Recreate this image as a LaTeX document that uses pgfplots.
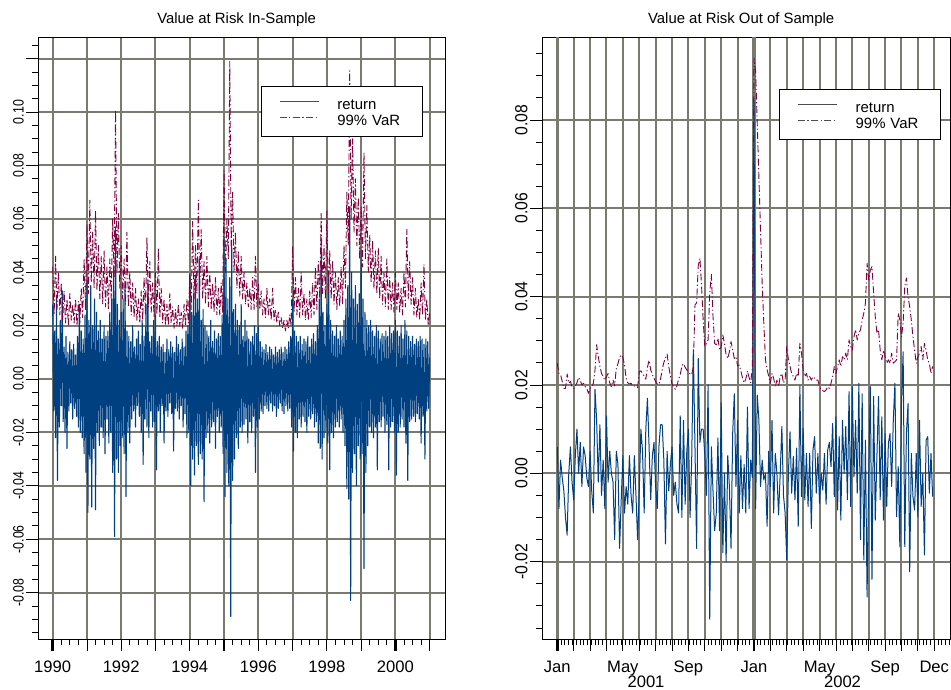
\documentclass[border=0pt]{standalone}
\usepackage{pgfplots}
\pgfplotsset{compat=1.18}
\usepackage{pgfplotstable}
\usepackage{fontspec}
\setmainfont{Liberation Sans}

\definecolor{retblue}{RGB}{0,64,128}
\definecolor{varred}{RGB}{128,0,64}
\definecolor{gridgray}{RGB}{122,122,112}

% daily returns 1990-2000, one value every 1/36 year
\pgfplotstableread[row sep=\\, header=false]{
0.028\\ -0.012\\ 0.018\\ -0.022\\ 0.030\\ -0.038\\ 0.015\\ -0.018\\ 0.022\\ -0.010\\ 0.033\\ -0.016\\
0.012\\ -0.020\\ 0.016\\ -0.026\\ 0.010\\ -0.012\\ 0.014\\ -0.009\\ 0.011\\ -0.015\\ 0.013\\ -0.011\\
0.009\\ -0.014\\ 0.016\\ -0.018\\ 0.028\\ -0.020\\ 0.018\\ -0.022\\ 0.015\\ -0.028\\ 0.024\\ -0.035\\
0.037\\ -0.050\\ 0.022\\ -0.030\\ 0.035\\ -0.048\\ 0.020\\ -0.026\\ 0.030\\ -0.049\\ 0.025\\ -0.020\\
0.018\\ -0.025\\ 0.022\\ -0.018\\ 0.015\\ -0.022\\ 0.020\\ -0.028\\ 0.016\\ -0.015\\ 0.018\\ -0.024\\
0.025\\ -0.020\\ 0.030\\ -0.035\\ 0.042\\ -0.059\\ 0.057\\ -0.030\\ 0.028\\ -0.035\\ 0.022\\ -0.025\\
0.025\\ -0.022\\ 0.030\\ -0.028\\ 0.035\\ -0.044\\ 0.018\\ -0.020\\ 0.016\\ -0.024\\ 0.014\\ -0.015\\
0.020\\ -0.012\\ 0.012\\ -0.018\\ 0.015\\ -0.010\\ 0.018\\ -0.014\\ 0.013\\ -0.020\\ 0.022\\ -0.032\\
0.016\\ -0.015\\ 0.028\\ -0.018\\ 0.037\\ -0.022\\ 0.014\\ -0.012\\ 0.016\\ -0.018\\ 0.022\\ -0.016\\
0.024\\ -0.034\\ 0.014\\ -0.012\\ 0.016\\ -0.020\\ 0.012\\ -0.010\\ 0.013\\ -0.024\\ 0.010\\ -0.012\\
0.015\\ -0.014\\ 0.011\\ -0.009\\ 0.014\\ -0.013\\ 0.012\\ -0.027\\ 0.010\\ -0.011\\ 0.016\\ -0.012\\
0.013\\ -0.015\\ 0.011\\ -0.010\\ 0.015\\ -0.018\\ 0.012\\ -0.013\\ 0.018\\ -0.022\\ 0.020\\ -0.020\\
0.039\\ -0.040\\ 0.025\\ -0.030\\ 0.032\\ -0.036\\ 0.039\\ -0.025\\ 0.030\\ -0.032\\ 0.045\\ -0.028\\
0.022\\ -0.030\\ 0.026\\ -0.046\\ 0.020\\ -0.022\\ 0.018\\ -0.020\\ 0.016\\ -0.024\\ 0.022\\ -0.018\\
0.014\\ -0.016\\ 0.018\\ -0.026\\ 0.015\\ -0.014\\ 0.017\\ -0.020\\ 0.016\\ -0.018\\ 0.024\\ -0.028\\
0.053\\ -0.044\\ 0.045\\ -0.035\\ 0.030\\ -0.040\\ 0.038\\ -0.089\\ 0.052\\ -0.038\\ 0.026\\ -0.030\\
0.028\\ -0.022\\ 0.022\\ -0.026\\ 0.020\\ -0.018\\ 0.028\\ -0.020\\ 0.016\\ -0.017\\ 0.022\\ -0.015\\
0.018\\ -0.024\\ 0.015\\ -0.016\\ 0.014\\ -0.020\\ 0.016\\ -0.014\\ 0.020\\ -0.035\\ 0.017\\ -0.018\\
0.020\\ -0.015\\ 0.014\\ -0.012\\ 0.012\\ -0.013\\ 0.011\\ -0.010\\ 0.013\\ -0.011\\ 0.010\\ -0.012\\
0.012\\ -0.009\\ 0.011\\ -0.012\\ 0.009\\ -0.010\\ 0.012\\ -0.014\\ 0.010\\ -0.011\\ 0.011\\ -0.009\\
0.012\\ -0.012\\ 0.010\\ -0.013\\ 0.012\\ -0.010\\ 0.011\\ -0.012\\ 0.014\\ -0.011\\ 0.016\\ -0.018\\
0.030\\ -0.027\\ 0.018\\ -0.020\\ 0.016\\ -0.022\\ 0.014\\ -0.015\\ 0.016\\ -0.018\\ 0.013\\ -0.014\\
0.015\\ -0.016\\ 0.014\\ -0.020\\ 0.016\\ -0.014\\ 0.012\\ -0.015\\ 0.015\\ -0.013\\ 0.017\\ -0.018\\
0.014\\ -0.016\\ 0.020\\ -0.024\\ 0.030\\ -0.026\\ 0.053\\ -0.030\\ 0.025\\ -0.022\\ 0.020\\ -0.020\\
0.028\\ -0.024\\ 0.038\\ -0.034\\ 0.022\\ -0.020\\ 0.018\\ -0.022\\ 0.016\\ -0.018\\ 0.020\\ -0.016\\
0.015\\ -0.018\\ 0.018\\ -0.015\\ 0.016\\ -0.020\\ 0.022\\ -0.025\\ 0.030\\ -0.041\\ 0.035\\ -0.045\\
0.0645\\ -0.083\\ 0.040\\ -0.035\\ 0.030\\ -0.028\\ 0.035\\ -0.040\\ 0.028\\ -0.025\\ 0.032\\ -0.030\\
0.048\\ -0.028\\ 0.030\\ -0.071\\ 0.025\\ -0.035\\ 0.022\\ -0.025\\ 0.020\\ -0.018\\ 0.022\\ -0.020\\
0.018\\ -0.022\\ 0.016\\ -0.018\\ 0.020\\ -0.034\\ 0.018\\ -0.016\\ 0.015\\ -0.018\\ 0.017\\ -0.014\\
0.016\\ -0.020\\ 0.018\\ -0.017\\ 0.016\\ -0.034\\ 0.020\\ -0.018\\ 0.017\\ -0.016\\ 0.018\\ -0.020\\
0.022\\ -0.036\\ 0.018\\ -0.020\\ 0.016\\ -0.018\\ 0.020\\ -0.015\\ 0.015\\ -0.018\\ 0.022\\ -0.024\\
0.018\\ -0.038\\ 0.016\\ -0.016\\ 0.014\\ -0.015\\ 0.016\\ -0.014\\ 0.013\\ -0.016\\ 0.015\\ -0.013\\
0.014\\ -0.015\\ 0.016\\ -0.024\\ 0.015\\ -0.014\\ 0.013\\ -0.030\\ 0.015\\ -0.012\\ 0.014\\ -0.011\\
0.008\\
}\retIn

% in-sample 99% VaR, one value every 1/24 year
\pgfplotstableread[row sep=\\, header=false]{
0.042\\ 0.024\\ 0.046\\ 0.026\\ 0.040\\ 0.024\\ 0.036\\ 0.022\\ 0.033\\ 0.021\\ 0.030\\ 0.020\\
0.032\\ 0.022\\ 0.028\\ 0.021\\ 0.030\\ 0.020\\ 0.029\\ 0.021\\ 0.034\\ 0.023\\ 0.045\\ 0.026\\
0.058\\ 0.032\\ 0.067\\ 0.036\\ 0.055\\ 0.034\\ 0.063\\ 0.033\\ 0.050\\ 0.030\\ 0.046\\ 0.028\\
0.048\\ 0.027\\ 0.042\\ 0.026\\ 0.045\\ 0.030\\ 0.060\\ 0.038\\ 0.1007\\ 0.040\\ 0.062\\ 0.034\\
0.050\\ 0.030\\ 0.045\\ 0.028\\ 0.055\\ 0.027\\ 0.040\\ 0.024\\ 0.036\\ 0.023\\ 0.034\\ 0.022\\
0.030\\ 0.021\\ 0.033\\ 0.022\\ 0.038\\ 0.024\\ 0.053\\ 0.027\\ 0.044\\ 0.025\\ 0.036\\ 0.023\\
0.040\\ 0.024\\ 0.049\\ 0.023\\ 0.034\\ 0.021\\ 0.030\\ 0.020\\ 0.028\\ 0.020\\ 0.032\\ 0.021\\
0.027\\ 0.019\\ 0.026\\ 0.020\\ 0.028\\ 0.020\\ 0.025\\ 0.019\\ 0.028\\ 0.020\\ 0.030\\ 0.021\\
0.040\\ 0.026\\ 0.059\\ 0.030\\ 0.050\\ 0.032\\ 0.067\\ 0.033\\ 0.056\\ 0.030\\ 0.044\\ 0.028\\
0.046\\ 0.027\\ 0.040\\ 0.026\\ 0.036\\ 0.025\\ 0.038\\ 0.024\\ 0.034\\ 0.024\\ 0.036\\ 0.025\\
0.078\\ 0.040\\ 0.060\\ 0.045\\ 0.119\\ 0.050\\ 0.070\\ 0.040\\ 0.055\\ 0.034\\ 0.048\\ 0.031\\
0.046\\ 0.030\\ 0.040\\ 0.028\\ 0.036\\ 0.027\\ 0.034\\ 0.026\\ 0.038\\ 0.026\\ 0.046\\ 0.027\\
0.036\\ 0.026\\ 0.033\\ 0.024\\ 0.030\\ 0.023\\ 0.034\\ 0.024\\ 0.030\\ 0.022\\ 0.034\\ 0.022\\
0.026\\ 0.021\\ 0.025\\ 0.020\\ 0.023\\ 0.019\\ 0.022\\ 0.018\\ 0.022\\ 0.019\\ 0.024\\ 0.020\\
0.050\\ 0.025\\ 0.038\\ 0.024\\ 0.034\\ 0.023\\ 0.040\\ 0.024\\ 0.032\\ 0.022\\ 0.030\\ 0.022\\
0.033\\ 0.023\\ 0.036\\ 0.024\\ 0.042\\ 0.026\\ 0.044\\ 0.030\\ 0.062\\ 0.032\\ 0.050\\ 0.030\\
0.063\\ 0.032\\ 0.048\\ 0.030\\ 0.044\\ 0.028\\ 0.040\\ 0.026\\ 0.038\\ 0.027\\ 0.042\\ 0.028\\
0.050\\ 0.034\\ 0.070\\ 0.050\\ 0.1155\\ 0.060\\ 0.090\\ 0.055\\ 0.075\\ 0.050\\ 0.068\\ 0.045\\
0.065\\ 0.042\\ 0.085\\ 0.045\\ 0.065\\ 0.040\\ 0.054\\ 0.036\\ 0.052\\ 0.034\\ 0.048\\ 0.032\\
0.049\\ 0.030\\ 0.046\\ 0.028\\ 0.040\\ 0.027\\ 0.045\\ 0.026\\ 0.038\\ 0.026\\ 0.036\\ 0.025\\
0.040\\ 0.026\\ 0.036\\ 0.025\\ 0.034\\ 0.024\\ 0.040\\ 0.027\\ 0.056\\ 0.030\\ 0.044\\ 0.028\\
0.038\\ 0.024\\ 0.034\\ 0.023\\ 0.030\\ 0.022\\ 0.036\\ 0.024\\ 0.043\\ 0.022\\ 0.030\\ 0.020\\
0.025\\
}\varIn

% returns 2001-2002, one value every 0.1 month
\pgfplotstableread[row sep=\\, header=false]{
0.006\\ -0.008\\ 0.003\\ -0.001\\ -0.004\\ -0.010\\ -0.014\\ 0.000\\ 0.006\\ -0.002\\
-0.006\\ 0.004\\ 0.010\\ 0.000\\ 0.007\\ -0.003\\ 0.006\\ 0.004\\ -0.001\\ -0.003\\
0.005\\ -0.004\\ -0.009\\ 0.019\\ 0.012\\ -0.002\\ 0.011\\ -0.005\\ 0.003\\ -0.008\\
0.013\\ -0.002\\ 0.005\\ 0.000\\ -0.002\\ -0.015\\ 0.005\\ 0.002\\ -0.017\\ -0.006\\
0.004\\ -0.009\\ -0.003\\ -0.007\\ 0.004\\ -0.005\\ -0.009\\ 0.004\\ -0.005\\ -0.015\\
-0.004\\ 0.010\\ 0.005\\ -0.009\\ 0.010\\ 0.017\\ 0.006\\ -0.006\\ 0.004\\ 0.007\\
-0.003\\ -0.008\\ 0.006\\ 0.011\\ 0.011\\ 0.003\\ -0.016\\ 0.005\\ -0.004\\ 0.002\\
0.006\\ -0.005\\ -0.002\\ -0.007\\ -0.009\\ 0.013\\ -0.010\\ 0.012\\ -0.007\\ 0.005\\
0.010\\ -0.010\\ 0.003\\ 0.028\\ 0.006\\ -0.017\\ 0.026\\ 0.007\\ 0.010\\ 0.010\\
0.004\\ -0.005\\ 0.020\\ -0.033\\ 0.006\\ -0.004\\ -0.013\\ -0.009\\ 0.008\\ -0.013\\
0.016\\ -0.018\\ 0.000\\ -0.020\\ 0.004\\ -0.003\\ -0.017\\ 0.009\\ 0.018\\ -0.003\\
0.012\\ -0.009\\ 0.004\\ -0.008\\ 0.002\\ -0.009\\ 0.015\\ -0.008\\ 0.003\\ -0.001\\
0.085\\ -0.008\\ 0.0177\\ 0.012\\ -0.003\\ 0.003\\ -0.0015\\ 0.000\\ -0.012\\ 0.005\\
-0.003\\ 0.012\\ -0.009\\ 0.0045\\ 0.000\\ -0.0094\\ 0.000\\ 0.0106\\ -0.005\\ -0.009\\
-0.0196\\ 0.000\\ 0.0094\\ -0.0045\\ 0.0038\\ -0.006\\ 0.0057\\ -0.012\\ 0.0198\\ -0.0053\\
0.0102\\ -0.006\\ 0.0045\\ -0.0075\\ 0.0045\\ -0.0125\\ 0.0053\\ 0.0083\\ -0.0045\\ 0.0045\\
-0.0068\\ 0.000\\ -0.0038\\ 0.0045\\ -0.007\\ 0.0053\\ 0.007\\ 0.0015\\ 0.0113\\ -0.0053\\
0.0128\\ -0.0083\\ 0.0083\\ -0.0106\\ 0.012\\ 0.000\\ 0.0106\\ -0.006\\ 0.0185\\ -0.0075\\
0.0196\\ -0.0008\\ 0.012\\ -0.0045\\ 0.0204\\ -0.015\\ 0.018\\ -0.0196\\ 0.0075\\ -0.028\\
0.000\\ 0.0196\\ -0.024\\ 0.0174\\ -0.0106\\ 0.0038\\ 0.0174\\ -0.006\\ 0.0128\\ -0.0106\\
0.009\\ -0.0075\\ 0.0068\\ 0.009\\ -0.003\\ 0.012\\ 0.0204\\ -0.0098\\ 0.0015\\ -0.0166\\
0.0158\\ 0.0275\\ -0.0166\\ 0.009\\ 0.0158\\ -0.0223\\ 0.0045\\ -0.0053\\ -0.0083\\ 0.0045\\
-0.0098\\ 0.012\\ -0.0075\\ 0.000\\ -0.0185\\ 0.0075\\ 0.0083\\ -0.0045\\ 0.0045\\ -0.0053\\
}\retOut

% out-of-sample 99% VaR, one value every 0.1 month
\pgfplotstableread[row sep=\\, header=false]{
0.0249\\ 0.0226\\ 0.0223\\ 0.0208\\ 0.0192\\ 0.0192\\ 0.0225\\ 0.0204\\ 0.0208\\ 0.0196\\
0.0192\\ 0.0198\\ 0.0205\\ 0.0217\\ 0.0210\\ 0.0200\\ 0.0204\\ 0.0196\\ 0.0192\\ 0.0181\\
0.0192\\ 0.0196\\ 0.0204\\ 0.0234\\ 0.0291\\ 0.0264\\ 0.0242\\ 0.0226\\ 0.0219\\ 0.0211\\
0.0219\\ 0.0226\\ 0.0205\\ 0.0196\\ 0.0211\\ 0.0198\\ 0.0238\\ 0.0248\\ 0.0263\\ 0.0268\\
0.0263\\ 0.0245\\ 0.0215\\ 0.0205\\ 0.0202\\ 0.0204\\ 0.0198\\ 0.0198\\ 0.0196\\ 0.0194\\
0.0230\\ 0.0232\\ 0.0226\\ 0.0220\\ 0.0213\\ 0.0240\\ 0.0256\\ 0.0234\\ 0.0223\\ 0.0215\\
0.0208\\ 0.0202\\ 0.0201\\ 0.0214\\ 0.0234\\ 0.0251\\ 0.0261\\ 0.0270\\ 0.0242\\ 0.0220\\
0.0202\\ 0.0195\\ 0.0190\\ 0.0198\\ 0.0213\\ 0.0223\\ 0.0243\\ 0.0248\\ 0.0240\\ 0.0234\\
0.0230\\ 0.0225\\ 0.0223\\ 0.0242\\ 0.0381\\ 0.0386\\ 0.0470\\ 0.0487\\ 0.0426\\ 0.0347\\
0.0287\\ 0.0294\\ 0.0302\\ 0.0408\\ 0.0450\\ 0.0355\\ 0.0294\\ 0.0291\\ 0.0306\\ 0.0279\\
0.0287\\ 0.0313\\ 0.0294\\ 0.0268\\ 0.0260\\ 0.0275\\ 0.0298\\ 0.0279\\ 0.0260\\ 0.0264\\
0.0243\\ 0.0245\\ 0.0232\\ 0.0216\\ 0.0205\\ 0.0213\\ 0.0232\\ 0.0217\\ 0.0205\\ 0.0238\\
0.0940\\ 0.0910\\ 0.0790\\ 0.0670\\ 0.0550\\ 0.0430\\ 0.0340\\ 0.0257\\ 0.0235\\ 0.0220\\
0.0204\\ 0.0226\\ 0.0215\\ 0.0196\\ 0.0211\\ 0.0196\\ 0.0219\\ 0.0226\\ 0.0204\\ 0.0211\\
0.0287\\ 0.0257\\ 0.0242\\ 0.0226\\ 0.0219\\ 0.0211\\ 0.0226\\ 0.0219\\ 0.0294\\ 0.0272\\
0.0234\\ 0.0219\\ 0.0226\\ 0.0211\\ 0.0219\\ 0.0211\\ 0.0219\\ 0.0215\\ 0.0211\\ 0.0211\\
0.0196\\ 0.0189\\ 0.0187\\ 0.0185\\ 0.0189\\ 0.0196\\ 0.0192\\ 0.0204\\ 0.0219\\ 0.0242\\
0.0226\\ 0.0242\\ 0.0257\\ 0.0242\\ 0.0264\\ 0.0257\\ 0.0272\\ 0.0257\\ 0.0302\\ 0.0287\\
0.0279\\ 0.0309\\ 0.0325\\ 0.0302\\ 0.0317\\ 0.0325\\ 0.0347\\ 0.0362\\ 0.0385\\ 0.0475\\
0.0438\\ 0.0460\\ 0.0468\\ 0.0408\\ 0.0355\\ 0.0317\\ 0.0325\\ 0.0279\\ 0.0257\\ 0.0279\\
0.0264\\ 0.0249\\ 0.0257\\ 0.0249\\ 0.0272\\ 0.0249\\ 0.0253\\ 0.0257\\ 0.0362\\ 0.0347\\
0.0309\\ 0.0340\\ 0.0423\\ 0.0442\\ 0.0400\\ 0.0377\\ 0.0347\\ 0.0309\\ 0.0279\\ 0.0249\\
0.0264\\ 0.0272\\ 0.0287\\ 0.0257\\ 0.0294\\ 0.0279\\ 0.0257\\ 0.0249\\ 0.0226\\ 0.0242\\
}\varOut

\pgfplotsset{
  riskaxis/.style={
    scale only axis, height=602pt,
    axis line style={black, line width=0.8pt},
    tick align=outside, tick pos=left,
    scaled x ticks=false, scaled y ticks=false,
    major tick length=12pt, minor tick length=6pt,
    every tick/.style={black, line width=0.8pt},
    grid=major,
    major grid style={gridgray, line width=2pt},
    xticklabel style={font=\fontsize{16.6}{18}\selectfont, inner sep=0pt, anchor=base, yshift=-20.7pt},
    title style={font=\fontsize{14.9}{17}\selectfont, at={(0.5,1)}, anchor=base, yshift=8pt, xshift=-5pt},
    legend cell align=left,
    legend style={anchor=north west, draw=black, line width=0.6pt, fill=white,
      inner xsep=18pt, inner ysep=6pt, row sep=-5.7pt, column sep=18.4pt,
      font=\fontsize{14.9}{16}\selectfont,
      nodes={inner sep=0pt, text height=17pt, text depth=4.7pt, text width=67pt, anchor=base west}},
    legend image code/.code={\draw[##1, draw=black!70, line width=0.7pt] (0pt,8pt) -- (39pt,8pt);},
  },
  retline/.style={retblue, line width=1.1pt, line join=round},
  varline/.style={varred, line width=0.9pt, line join=round, dash pattern=on 7pt off 2.5pt on 1.2pt off 2.5pt},
}

\begin{document}
\begin{tikzpicture}
\path[use as bounding box, fill=white] (0pt,0pt) rectangle (951pt,689pt);

\begin{axis}[riskaxis,
  at={(38.3pt,49.7pt)}, anchor=south west, width=406.7pt,
  xmin=1989.58, xmax=2001.447, ymin=-0.0975, ymax=0.128,
  xtick={1990,...,2001},
  xticklabels={1990,,1992,,1994,,1996,,1998,,2000,},
  minor xtick={1990,1990.25,...,2001},
  extra x ticks={1990,1995,2000}, extra x tick labels={,,},
  extra x tick style={grid=none, major tick style={line width=2.4pt}},
  ytick={-0.08,-0.06,-0.04,-0.02,0,0.02,0.04,0.06,0.08,0.1,0.12},
  yticklabels={-0.08,-0.06,-0.04,-0.02,0.00,0.02,0.04,0.06,0.08,0.10,},
  minor ytick={-0.095,-0.09,...,0.126},
  yticklabel style={font=\fontsize{15}{16}\selectfont, inner sep=0pt, xshift=-2.3pt, rotate=90, xscale=0.82, anchor=south},
  title={Value at Risk In-Sample},
  legend style={at={(0.5476,0.919)}},
]
\addplot[retline] table[x expr={1990+\coordindex/36}, y index=0] {\retIn};
\addlegendentry{return}
\addplot[varline] table[x expr={1990+\coordindex/24}, y index=0] {\varIn};
\addlegendentry{99\% VaR}
\end{axis}

\begin{axis}[riskaxis,
  at={(542.3pt,49.7pt)}, anchor=south west, width=407.7pt,
  xmin=-0.915, xmax=23.96, ymin=-0.03758, ymax=0.09871,
  xtick={0,...,23},
  xticklabels={Jan,,,,May,,,,Sep,,,,Jan,,,,May,,,,Sep,,,Dec},
  minor xtick={0,0.23,...,23.9},
  extra x ticks={0,12}, extra x tick labels={,},
  extra x tick style={grid=major, major grid style={gridgray, line width=3.4pt}, major tick style={line width=2.4pt}},
  ytick={-0.02,0,0.02,0.04,0.06,0.08},
  yticklabels={-0.02,0.00,0.02,0.04,0.06,0.08},
  minor ytick={-0.035,-0.03,...,0.096},
  yticklabel style={font=\fontsize{17.5}{18}\selectfont, inner sep=0pt, xshift=-2.6pt, rotate=90, xscale=0.9, anchor=south},
  title={Value at Risk Out of Sample},
  legend style={at={(0.5813,0.9136)}},
]
\addplot[retline, line width=1pt] table[x expr={\coordindex/10}, y index=0] {\retOut};
\addlegendentry{return}
\addplot[varline] table[x expr={\coordindex/10}, y index=0] {\varOut};
\addlegendentry{99\% VaR}
\end{axis}

\node[font=\fontsize{16.6}{18}\selectfont, anchor=base, inner sep=0pt] at (646pt,1.7pt) {2001};
\node[font=\fontsize{16.6}{18}\selectfont, anchor=base, inner sep=0pt] at (842.5pt,1.7pt) {2002};
\end{tikzpicture}
\end{document}
